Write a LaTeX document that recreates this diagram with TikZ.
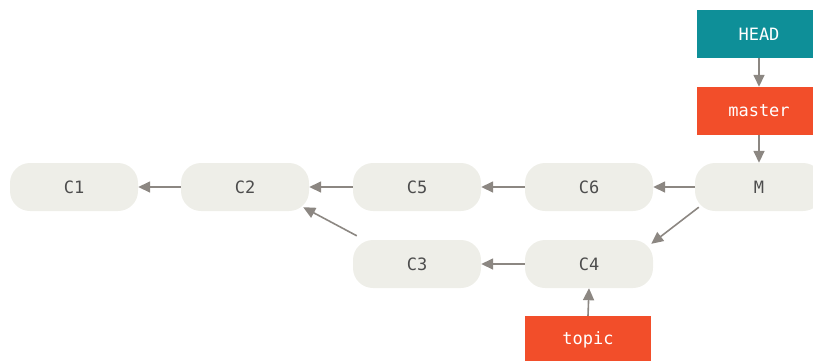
\documentclass[tikz,border=0pt]{standalone}
\usepackage{fontspec}
\setmonofont{DejaVu Sans Mono}
\usetikzlibrary{arrows.meta}
\definecolor{cfill}{HTML}{EEEEE8}
\definecolor{ctext}{HTML}{4D4D4D}
\definecolor{carrow}{HTML}{8C8782}
\definecolor{headc}{HTML}{0E8F98}
\definecolor{branchc}{HTML}{F24E2A}
\begin{document}
\begin{tikzpicture}[x=1pt,y=-1pt,
  commit/.style={fill=cfill,rounded corners=20pt,minimum width=128pt,minimum height=48pt,inner sep=0pt,text=ctext,font=\ttfamily\fontsize{17}{20}\selectfont},
  ref/.style={minimum width=124pt,minimum height=48pt,inner sep=0pt,text=white,font=\ttfamily\fontsize{17}{20}\selectfont},
  arr/.style={draw=carrow,line width=1.6pt,-{Triangle[length=12pt,width=11pt]},fill=carrow}]
\useasboundingbox (0,0) rectangle (813,360);
\begin{scope}
\clip (0,0) rectangle (813,360);
\node[commit] (c1) at (74,187) {C1};
\node[commit] (c2) at (245,187) {C2};
\node[commit] (c5) at (417,187) {C5};
\node[commit] (c6) at (589,187) {C6};
\node[commit] (m) at (759,187) {M};
\node[commit] (c3) at (417,264) {C3};
\node[commit] (c4) at (589,264) {C4};
\node[ref,fill=headc] (head) at (759,34) {HEAD};
\node[ref,fill=branchc] (master) at (759,111) {master};
\node[ref,fill=branchc,minimum width=126pt] (topic) at (588,340) {topic};
\end{scope}
\draw[arr] (head.south) -- (master.north);
\draw[arr] (master.south) -- (m.north);
\draw[arr] (m.west) -- (c6.east);
\draw[arr] (c6.west) -- (c5.east);
\draw[arr] (c5.west) -- (c2.east);
\draw[arr] (c2.west) -- (c1.east);
\draw[arr] (c4.west) -- (c3.east);
\draw[arr] (topic.north) -- (c4.south);
\draw[arr] ([shift={(4,-4)}]m.south west) -- ([shift={(-2,4)}]c4.north east);
\draw[arr] ([shift={(4,-4)}]c3.north west) -- ([shift={(-6,-4)}]c2.south east);
\end{tikzpicture}
\end{document}
